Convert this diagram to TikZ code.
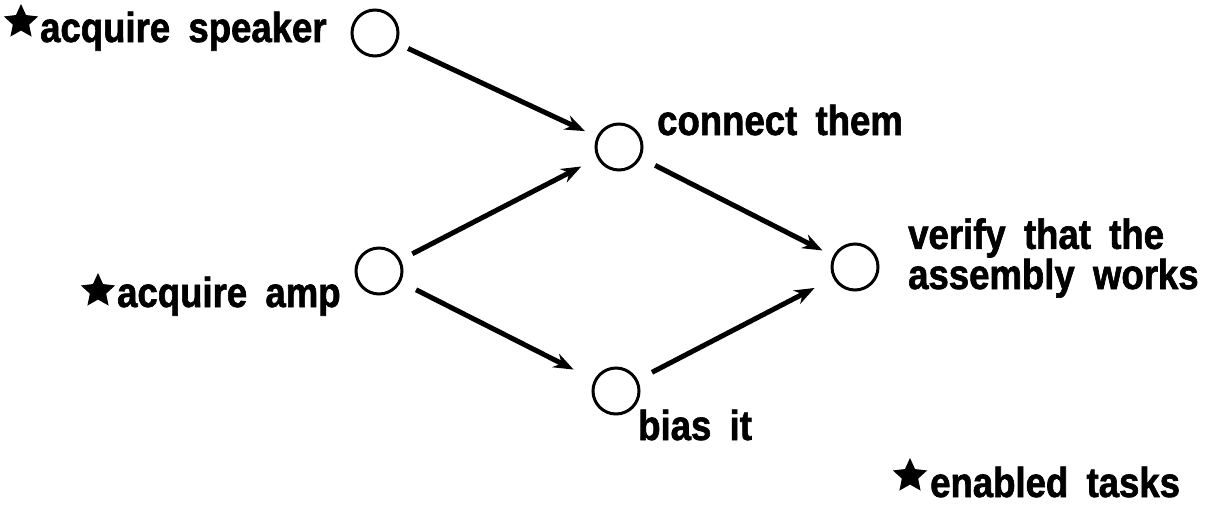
\documentclass[tikz,border=0pt]{standalone}
\usepackage{fontspec}
\setmainfont{Liberation Sans}
\newfontfamily\lblfont{Liberation Sans}[FakeStretch=0.87,WordSpace=1.8,BoldFeatures={FakeBold=1.5}]
\usetikzlibrary{shapes.geometric,arrows.meta}
\begin{document}
\begin{tikzpicture}[x=1pt,y=-1pt,
  task/.style={circle,draw,line width=3pt,minimum size=46pt,inner sep=0pt},
  lbl/.style={font=\lblfont\bfseries\fontsize{42}{34}\selectfont,inner sep=0pt,anchor=base west},
  enab/.style={star,star points=5,star point ratio=2.1,fill=black,minimum size=36pt,inner sep=0pt},
  flow/.style={line width=5pt,-{Stealth[length=20pt,width=15pt]}}]
\path[use as bounding box] (0,0) rectangle (1216,504);
% task circles
\node[task] (spk) at (375,33) {};
\node[task] (con) at (619,147) {};
\node[task] (amp) at (379,271) {};
\node[task] (bias) at (616,391) {};
\node[task] (ver) at (855,267) {};
% labels
\node[enab] (s1) at (21,22) {};
\node[lbl] (tspk) at (40,42) {acquire speaker};
\node[enab] (s2) at (98,291) {};
\node[lbl] (tamp) at (117,307) {acquire amp};
\node[lbl] (tcon) at (657,135) {connect them};
\node[lbl,align=left] (tver) at (908,289) {verify that the\\assembly works};
\node[lbl] (tbias) at (638,440) {bias it};
\node[enab] (s3) at (910,476) {};
\node[lbl] (tenab) at (930,497) {enabled tasks};
% dependencies
\draw[flow,shorten <=12pt,shorten >=13pt] (spk) -- (con);
\draw[flow,shorten <=13pt,shorten >=18pt] (amp) -- (con);
\draw[flow,shorten <=17pt,shorten >=23pt] (amp) -- (bias);
\draw[flow,shorten <=16pt,shorten >=12pt] (con) -- (ver);
\draw[flow,shorten <=16pt,shorten >=21pt] (bias) -- (ver);
\end{tikzpicture}
\end{document}
